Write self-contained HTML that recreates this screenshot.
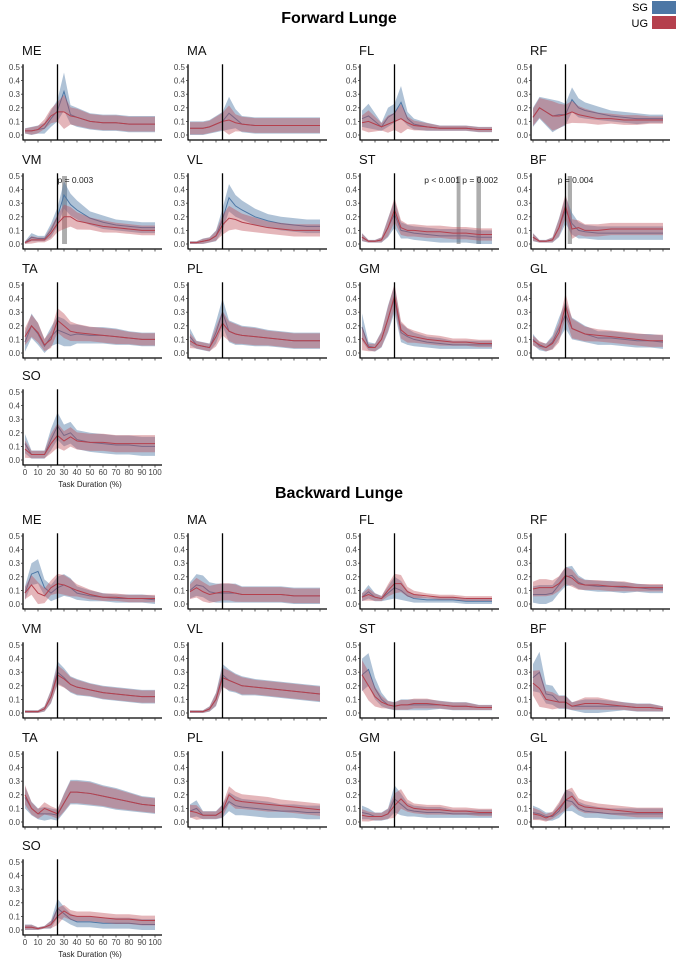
<!DOCTYPE html>
<html><head><meta charset="utf-8"><style>
html,body{margin:0;padding:0;background:#fff;}
svg{display:block;font-family:"Liberation Sans",Arial,sans-serif;}
</style></head><body>
<svg id="chart" width="678" height="962" viewBox="0 0 678 962" xmlns="http://www.w3.org/2000/svg">
<text x="339" y="23" text-anchor="middle" font-size="16" font-weight="bold">Forward Lunge</text>
<text x="339" y="498" text-anchor="middle" font-size="16" font-weight="bold">Backward Lunge</text>
<g>
<text x="648" y="11" text-anchor="end" font-size="11">SG</text>
<rect x="652" y="1" width="24" height="13" fill="#4d77a5"/>
<text x="648" y="27" text-anchor="end" font-size="11">UG</text>
<rect x="652" y="16" width="24" height="13" fill="#b5404d"/>
</g>
</svg>
<script>
const xs=[0,5,10,15,20,25,30,35,40,50,60,70,80,90,100];
const yTicks=[0,0.1,0.2,0.3,0.4,0.5];
const yTickLabels=["0.0","0.1","0.2","0.3","0.4","0.5"];
const xTicks=[0,10,20,30,40,50,60,70,80,90,100];
const muscles=["ME","MA","FL","RF","VM","VL","ST","BF","TA","PL","GM","GL","SO"];
// Forward lunge
const fSG={
ME:[.03,.03,.04,.05,.12,.18,.32,.15,.13,.10,.09,.09,.08,.08,.08],
MA:[.05,.05,.05,.06,.08,.10,.16,.12,.08,.07,.07,.07,.07,.07,.07],
FL:[.12,.14,.10,.06,.13,.16,.24,.12,.08,.06,.05,.05,.05,.04,.04],
RF:[.13,.20,.17,.14,.15,.15,.26,.20,.18,.16,.14,.13,.12,.12,.12],
VM:[.01,.05,.04,.04,.10,.20,.36,.29,.25,.19,.16,.14,.13,.12,.12],
VL:[.01,.01,.02,.03,.06,.18,.34,.28,.25,.20,.17,.15,.14,.13,.13],
ST:[.05,.02,.02,.03,.12,.22,.10,.09,.08,.07,.06,.06,.06,.05,.05],
BF:[.05,.02,.02,.03,.12,.25,.15,.10,.09,.08,.08,.08,.08,.08,.08],
TA:[.08,.20,.14,.05,.12,.17,.15,.13,.14,.13,.13,.12,.11,.10,.10],
PL:[.12,.06,.05,.04,.15,.30,.16,.14,.13,.12,.11,.10,.09,.09,.09],
GM:[.19,.05,.04,.10,.25,.40,.15,.12,.10,.08,.07,.06,.06,.06,.06],
GL:[.10,.05,.04,.08,.18,.28,.18,.16,.14,.11,.11,.10,.09,.09,.08],
SO:[.12,.04,.04,.04,.15,.25,.18,.20,.15,.13,.12,.11,.11,.10,.10]};
const fUG={
ME:[.03,.03,.04,.08,.14,.17,.17,.14,.13,.10,.09,.09,.08,.08,.08],
MA:[.05,.05,.05,.06,.08,.10,.11,.09,.08,.07,.07,.07,.07,.07,.07],
FL:[.09,.10,.08,.06,.08,.10,.12,.09,.07,.06,.05,.05,.05,.04,.04],
RF:[.13,.20,.17,.14,.14,.15,.17,.15,.14,.12,.12,.11,.11,.11,.11],
VM:[.01,.03,.03,.03,.08,.15,.20,.20,.17,.15,.13,.12,.11,.10,.10],
VL:[.01,.01,.02,.03,.06,.14,.19,.18,.16,.14,.12,.11,.10,.10,.10],
ST:[.05,.02,.02,.03,.12,.25,.12,.10,.10,.09,.09,.08,.08,.07,.07],
BF:[.05,.02,.02,.03,.12,.28,.11,.12,.10,.10,.11,.11,.11,.11,.11],
TA:[.12,.20,.15,.06,.10,.24,.20,.16,.15,.14,.13,.12,.11,.10,.10],
PL:[.09,.06,.05,.04,.12,.22,.16,.14,.13,.12,.11,.10,.09,.09,.09],
GM:[.11,.04,.04,.10,.25,.42,.17,.13,.12,.10,.09,.08,.08,.07,.07],
GL:[.09,.06,.04,.07,.15,.35,.18,.16,.14,.13,.12,.11,.10,.09,.09],
SO:[.08,.04,.04,.04,.12,.18,.14,.17,.14,.13,.13,.12,.12,.12,.12]};
const fSD={
ME:[.02,.03,.03,.04,.06,.08,.14,.07,.07,.06,.06,.06,.06,.06,.06],
MA:[.05,.05,.05,.05,.06,.07,.12,.07,.06,.06,.06,.06,.06,.06,.06],
FL:[.06,.09,.06,.03,.07,.07,.12,.05,.04,.03,.02,.02,.02,.02,.02],
RF:[.07,.08,.10,.12,.10,.08,.09,.07,.06,.05,.04,.04,.04,.03,.03],
VM:[.01,.03,.02,.02,.05,.07,.10,.08,.07,.05,.05,.04,.04,.04,.04],
VL:[.01,.01,.02,.02,.04,.08,.10,.08,.07,.06,.05,.05,.05,.05,.05],
ST:[.03,.01,.01,.02,.07,.10,.06,.05,.05,.05,.05,.05,.05,.05,.05],
BF:[.03,.01,.01,.02,.07,.10,.08,.06,.05,.05,.05,.05,.05,.05,.05],
TA:[.07,.09,.08,.05,.07,.10,.10,.08,.07,.06,.06,.06,.05,.05,.05],
PL:[.06,.03,.03,.03,.08,.10,.08,.08,.07,.07,.06,.06,.06,.06,.06],
GM:[.10,.03,.03,.06,.10,.10,.07,.06,.05,.04,.04,.03,.03,.03,.03],
GL:[.04,.03,.03,.05,.08,.10,.08,.07,.06,.05,.05,.05,.05,.05,.05],
SO:[.07,.03,.03,.03,.08,.10,.08,.08,.07,.07,.07,.07,.07,.07,.07]};
// Backward lunge
const bSG={
ME:[.08,.22,.24,.12,.08,.12,.14,.12,.08,.06,.05,.04,.04,.04,.03],
MA:[.10,.14,.13,.09,.08,.08,.08,.08,.07,.07,.07,.07,.06,.06,.06],
FL:[.05,.09,.05,.04,.08,.12,.10,.06,.04,.03,.03,.03,.02,.02,.02],
RF:[.07,.07,.07,.08,.14,.20,.21,.16,.14,.13,.13,.12,.12,.11,.11],
VM:[.01,.01,.01,.03,.12,.30,.26,.21,.19,.17,.15,.14,.13,.12,.12],
VL:[.01,.01,.01,.03,.10,.28,.24,.22,.20,.19,.18,.17,.16,.15,.14],
ST:[.28,.32,.18,.10,.06,.05,.06,.06,.06,.06,.06,.05,.05,.04,.04],
BF:[.26,.30,.14,.13,.08,.08,.05,.05,.05,.05,.05,.05,.04,.04,.03],
TA:[.18,.10,.06,.06,.06,.05,.14,.22,.22,.21,.19,.17,.15,.13,.12],
PL:[.08,.10,.05,.05,.05,.08,.15,.12,.11,.10,.09,.08,.08,.07,.07],
GM:[.07,.06,.04,.04,.06,.17,.13,.09,.08,.07,.07,.06,.06,.06,.06],
GL:[.07,.06,.04,.04,.08,.16,.15,.10,.08,.07,.06,.06,.06,.06,.06],
SO:[.02,.02,.01,.02,.04,.16,.12,.08,.06,.06,.05,.05,.05,.04,.04]};
const bUG={
ME:[.08,.14,.08,.06,.12,.15,.14,.12,.10,.07,.05,.05,.04,.04,.04],
MA:[.09,.12,.09,.07,.08,.09,.09,.08,.07,.07,.07,.07,.06,.06,.06],
FL:[.05,.07,.05,.04,.10,.15,.15,.09,.07,.06,.05,.05,.04,.04,.04],
RF:[.11,.12,.12,.12,.15,.21,.19,.15,.14,.14,.13,.13,.12,.12,.12],
VM:[.01,.01,.01,.03,.12,.28,.25,.21,.19,.17,.15,.14,.13,.12,.12],
VL:[.01,.01,.01,.03,.10,.26,.24,.22,.20,.19,.18,.17,.16,.15,.14],
ST:[.28,.20,.12,.08,.06,.05,.06,.06,.07,.07,.06,.05,.05,.04,.04],
BF:[.22,.18,.10,.09,.08,.08,.05,.06,.07,.07,.06,.05,.04,.04,.03],
TA:[.20,.10,.06,.10,.08,.06,.14,.22,.22,.21,.19,.17,.15,.13,.12],
PL:[.08,.07,.05,.05,.05,.08,.20,.16,.15,.14,.13,.12,.11,.10,.09],
GM:[.05,.04,.04,.04,.06,.12,.17,.12,.10,.09,.09,.08,.08,.07,.07],
GL:[.06,.05,.03,.05,.10,.16,.19,.13,.11,.10,.09,.08,.07,.07,.07],
SO:[.02,.02,.01,.02,.04,.10,.14,.11,.10,.10,.09,.08,.08,.07,.07]};
const bSD={
ME:[.05,.08,.09,.06,.06,.08,.08,.07,.05,.04,.03,.03,.03,.03,.03],
MA:[.06,.08,.08,.07,.07,.07,.07,.07,.06,.06,.06,.06,.06,.06,.06],
FL:[.03,.05,.03,.02,.05,.08,.07,.04,.03,.02,.02,.02,.02,.02,.02],
RF:[.06,.07,.07,.06,.06,.07,.07,.05,.04,.04,.04,.04,.03,.03,.03],
VM:[.01,.01,.01,.02,.05,.08,.07,.06,.06,.05,.05,.05,.05,.05,.05],
VL:[.01,.01,.01,.02,.05,.08,.08,.07,.07,.06,.06,.06,.06,.06,.06],
ST:[.12,.12,.08,.05,.03,.03,.04,.04,.04,.04,.03,.03,.03,.02,.02],
BF:[.10,.15,.07,.07,.05,.05,.03,.04,.05,.05,.04,.03,.03,.03,.02],
TA:[.08,.05,.04,.05,.04,.04,.07,.09,.09,.09,.08,.08,.07,.06,.06],
PL:[.05,.06,.03,.03,.03,.05,.07,.07,.06,.06,.06,.05,.05,.05,.05],
GM:[.05,.04,.03,.03,.04,.10,.08,.05,.04,.04,.04,.03,.03,.03,.03],
GL:[.05,.04,.03,.03,.05,.08,.07,.05,.05,.04,.04,.04,.04,.04,.04],
SO:[.02,.02,.01,.01,.03,.07,.05,.04,.04,.04,.04,.04,.04,.04,.04]};
const sigF={VM:[[28.5,32.3]],ST:[[72.8,75.8],[88,91.5]],BF:[[26.7,30]]};
const sigLabels={VM:"p = 0.003",ST:"p < 0.001 p = 0.002",BF:"p = 0.004"};
const eventPct=25;

const NS="http://www.w3.org/2000/svg";
const svg=document.getElementById('chart');
const colX=[25,190,362,533];
const fRowY=[135,244,353,460];
const bRowY=[604,713,822,930];
const W=130, H=136;
function mk(tag,attrs,parent){const e=document.createElementNS(NS,tag);for(const k in attrs)e.setAttribute(k,attrs[k]);parent.appendChild(e);return e;}

function drawPanel(section,m,idx,SG,UG,SD,rowY){
  const ox=colX[idx%4], oy=rowY[Math.floor(idx/4)];
  const sx=v=>ox+v/100*W, sy=v=>oy-v*H;
  const g=mk('g',{},svg);
  
  
  const t=mk('text',{x:ox-3,y:oy-80,'font-size':13,fill:'#111'},g);t.textContent=m;
  
  
  // significance
  if(section==='forward'&&sigF[m]){
    sigF[m].forEach(r=>{const rr=mk('rect',{x:sx(r[0]),y:sy(0.5),width:sx(r[1])-sx(r[0]),height:sy(0)-sy(0.5),fill:'#999','fill-opacity':0.8},g);
      
      });
    const lt=m==='ST'?{x:sx(100)+6,a:'end'}:{x:sx(m==='VM'?25:19),a:'start'};
    const st=mk('text',{x:lt.x,y:sy(0.45),'font-size':8.5,'text-anchor':lt.a,fill:'#222'},g);st.textContent=sigLabels[m];
    
    
  }
  [[SG,'#4d77a5','rgba(77,119,165,0.45)','sg'],[UG,'#b5404d','rgba(190,80,90,0.42)','ug']].forEach(([ser,lc,fc,nm])=>{
    const mean=ser[m], sd=SD[m];
    let up=xs.map((x,i)=>sx(x)+','+sy(mean[i]+sd[i]*(nm==='sg'?1:0.9)));
    let lo=xs.map((x,i)=>sx(x)+','+sy(Math.max(-0.02,mean[i]-sd[i]*(nm==='sg'?1:0.9)))).reverse();
    const b=mk('polygon',{points:up.concat(lo).join(' '),fill:fc},g);
    
    
    const l=mk('polyline',{points:xs.map((x,i)=>sx(x)+','+sy(mean[i])).join(' '),fill:'none',stroke:lc,'stroke-width':1},g);
    
    
  });
  const ev=mk('line',{x1:sx(eventPct),x2:sx(eventPct),y1:sy(0.52),y2:oy+5,stroke:'#000','stroke-width':1.3},g);
  
  
  // axes
  const ya=mk('line',{x1:ox-2,x2:ox-2,y1:sy(0.52),y2:oy+5.5,stroke:'#000','stroke-width':1.3},g);
  
  
  const xa=mk('line',{x1:ox-2,x2:ox+W+7,y1:oy+5,y2:oy+5,stroke:'#000','stroke-width':1.3},g);
  
  
  yTicks.forEach((v,i)=>{
    mk('line',{x1:ox-4,x2:ox-2,y1:sy(v),y2:sy(v),stroke:'#333','stroke-width':0.8},g);
    const tl=mk('text',{x:ox-5,y:sy(v)+3,'font-size':8,'text-anchor':'end',fill:'#444'},g);tl.textContent=yTickLabels[i];
    
    
  });
  xTicks.forEach(v=>{
    mk('line',{x1:sx(v),x2:sx(v),y1:oy+5,y2:oy+7.5,stroke:'#333','stroke-width':0.8},g);
    if(m==='SO'){const tl=mk('text',{x:sx(v),y:oy+15,'font-size':8,'text-anchor':'middle',fill:'#444'},g);tl.textContent=v;
      
      }
  });
  if(m==='SO'){const xt=mk('text',{x:sx(50),y:oy+27,'font-size':8,'text-anchor':'middle',fill:'#222'},g);xt.textContent='Task Duration (%)';
    
    }
}
muscles.forEach((m,i)=>drawPanel('forward',m,i,fSG,fUG,fSD,fRowY));
muscles.forEach((m,i)=>drawPanel('backward',m,i,bSG,bUG,bSD,bRowY));
</script>
</body></html>
